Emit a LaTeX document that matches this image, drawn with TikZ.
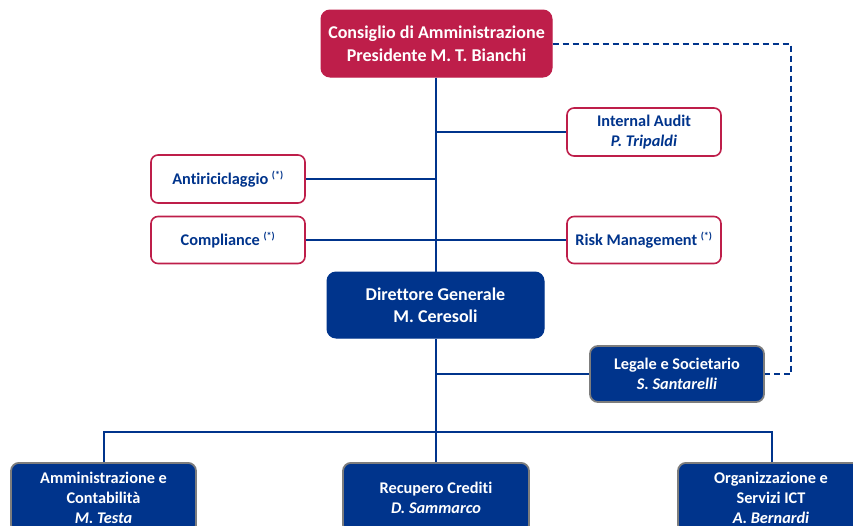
\documentclass[tikz,border=0pt]{standalone}
\usepackage{fontspec}
\setmainfont{Carlito}[Ligatures=NoCommon]
\begin{document}
\begin{tikzpicture}[x=1pt,y=-1pt,
  every node/.style={font=\bfseries, align=center, inner sep=0pt},
  redbox/.style={draw=crim, fill=crim, text=white, rounded corners=9pt, line width=1pt, font=\bfseries\fontsize{18}{23}\selectfont},
  outbox/.style={draw=crim, fill=white, text=navy, rounded corners=7pt, line width=1.6pt, font=\bfseries\fontsize{16.3}{20}\selectfont},
  bluebox/.style={draw=navy, fill=navy, text=white, rounded corners=9pt, line width=1pt, font=\bfseries\fontsize{18}{22}\selectfont},
  grayblue/.style={draw=graybd, fill=navy, text=white, rounded corners=8pt, line width=1.8pt, font=\bfseries\fontsize{16.3}{20}\selectfont},
  link/.style={draw=navy, line width=1.6pt},
  dlink/.style={draw=navy, line width=1.6pt, dash pattern=on 6pt off 4pt}
]
\definecolor{crim}{RGB}{190,30,74}
\definecolor{navy}{RGB}{0,52,140}
\definecolor{graybd}{RGB}{125,125,125}
\useasboundingbox (0,0) rectangle (853,525);
\clip (0,0) rectangle (853,525);

\node[redbox, minimum width=231pt, minimum height=67pt] (cda) at (436.5,43.5) {Consiglio di Amministrazione\\Presidente M. T. Bianchi};
\node[outbox, minimum width=154pt, minimum height=48pt] (ia) at (644,132) {Internal Audit\\\textit{P. Tripaldi}};
\node[outbox, minimum width=154pt, minimum height=48pt] (ar) at (228,179) {Antiriciclaggio \textsuperscript{\fontsize{10}{10}\selectfont(*)}};
\node[outbox, minimum width=154pt, minimum height=47pt] (co) at (228,240) {Compliance \textsuperscript{\fontsize{10}{10}\selectfont(*)}};
\node[outbox, minimum width=154pt, minimum height=47pt] (rm) at (644,240) {Risk Management \textsuperscript{\fontsize{10}{10}\selectfont(*)}};
\node[bluebox, minimum width=217pt, minimum height=66pt] (dg) at (435.5,305) {Direttore Generale\\M. Ceresoli};
\node[grayblue, minimum width=174pt, minimum height=56pt] (ls) at (677,374) {Legale e Societario\\\textit{S. Santarelli}};
\node[grayblue, minimum width=185pt, minimum height=70pt, anchor=north] (ac) at (103.5,462) {Amministrazione e\\Contabilità\\\textit{M. Testa}};
\node[grayblue, minimum width=186pt, minimum height=70pt, anchor=north] (rc) at (436,462) {Recupero Crediti\\\textit{D. Sammarco}};
\node[grayblue, minimum width=186pt, minimum height=70pt, anchor=north] (os) at (771,462) {Organizzazione e\\Servizi ICT\\\textit{A. Bernardi}};

\coordinate (bus) at (436,432);
\coordinate (busL) at (104,432);
\coordinate (busR) at (772,432);

% trunk
\draw[link] (cda.south -| bus) -- (dg.north -| bus);
\draw[link] (dg.south -| bus) -- (bus);
\draw[link] (ia.west) -- (ia.west -| bus);
\draw[link] (ar.east) -- (ar.east -| bus);
\draw[link] (co.east) -- (rm.west);
\draw[link] (ls.west) -- (ls.west -| bus);
\draw[link] (busL |- ac.north) -- (busL) -- (busR) -- (busR |- os.north);
\draw[link] (bus) -- (rc.north);
% dashed
\coordinate (dR) at (791,44);
\draw[dlink] (cda.east |- dR) -- (dR) -- (dR |- ls.east) -- (ls.east);
\end{tikzpicture}
\end{document}
